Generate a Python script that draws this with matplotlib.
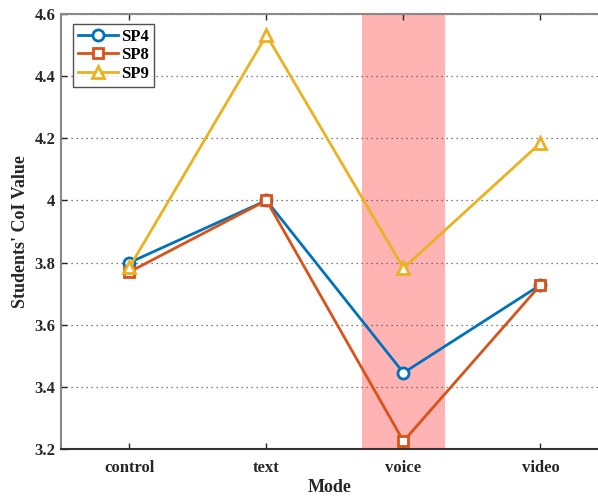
import matplotlib
matplotlib.use("Agg")
import matplotlib.pyplot as plt

categories = ["control", "text", "voice", "video"]
sp4 = [3.80, 4.00, 3.445, 3.728]
sp8 = [3.77, 4.00, 3.225, 3.728]
sp9 = [3.785, 4.532, 3.782, 4.185]
highlight_category = "voice"
yticks = [3.2, 3.4, 3.6, 3.8, 4.0, 4.2, 4.4, 4.6]
ytick_labels = ["3.2", "3.4", "3.6", "3.8", "4", "4.2", "4.4", "4.6"]

plt.rcParams['font.family'] = ['Liberation Serif', 'DejaVu Serif']
plt.rcParams['font.weight'] = 'bold'

fig = plt.figure(figsize=(5.98, 4.96), dpi=100)
ax = fig.add_axes([0.102, 0.0948, 0.898, 0.877])

x = list(range(1, len(categories) + 1))
hi = categories.index(highlight_category) + 1
ax.axvspan(hi - 0.3, hi + 0.3, color='#FFB3B3', zorder=0, lw=0)

ax.plot(x, sp4, '-o', color='#0072BD', lw=2, ms=8, mfc='white', mew=2, label='SP4', zorder=3)
ax.plot(x, sp8, '-s', color='#D95319', lw=2, ms=7, mfc='white', mew=2, label='SP8', zorder=3)
ax.plot(x, sp9, '-^', color='#EDB120', lw=2, ms=9, mfc='white', mew=2, label='SP9', zorder=3)

ax.set_xlim(0.5, 4.42)
ax.set_ylim(3.2, 4.6)
ax.set_xticks(x)
ax.set_xticklabels(categories)
ax.set_yticks(yticks)
ax.set_yticklabels(ytick_labels)
ax.tick_params(axis='both', labelsize=12, colors='#262626', direction='in', length=4, width=1)
ax.tick_params(axis='x', top=True, pad=8)
ax.tick_params(axis='y', right=False, pad=4)
ax.yaxis.grid(True, linestyle=(0, (1, 3)), color='#555555', lw=0.9)
ax.set_axisbelow(True)

for s in ['left', 'top']:
    ax.spines[s].set_color('#888888')
    ax.spines[s].set_linewidth(1.5)
ax.spines['bottom'].set_color('#333333')
ax.spines['bottom'].set_linewidth(1.5)
ax.spines['right'].set_visible(False)

ax.set_xlabel('Mode', fontsize=13, fontweight='bold', color='#262626', labelpad=2)
ax.set_ylabel("Students' CoI Value", fontsize=13, fontweight='bold', color='#262626', labelpad=4)

leg = ax.legend(loc='upper left', bbox_to_anchor=(0.022, 0.978), fontsize=12, frameon=True,
                fancybox=False, edgecolor='#262626', handlelength=2.4, borderpad=0.3,
                labelspacing=0.15, handletextpad=0.2, borderaxespad=0.0)
leg.get_frame().set_linewidth(1.0)

fig.savefig('out.png', dpi=100)
